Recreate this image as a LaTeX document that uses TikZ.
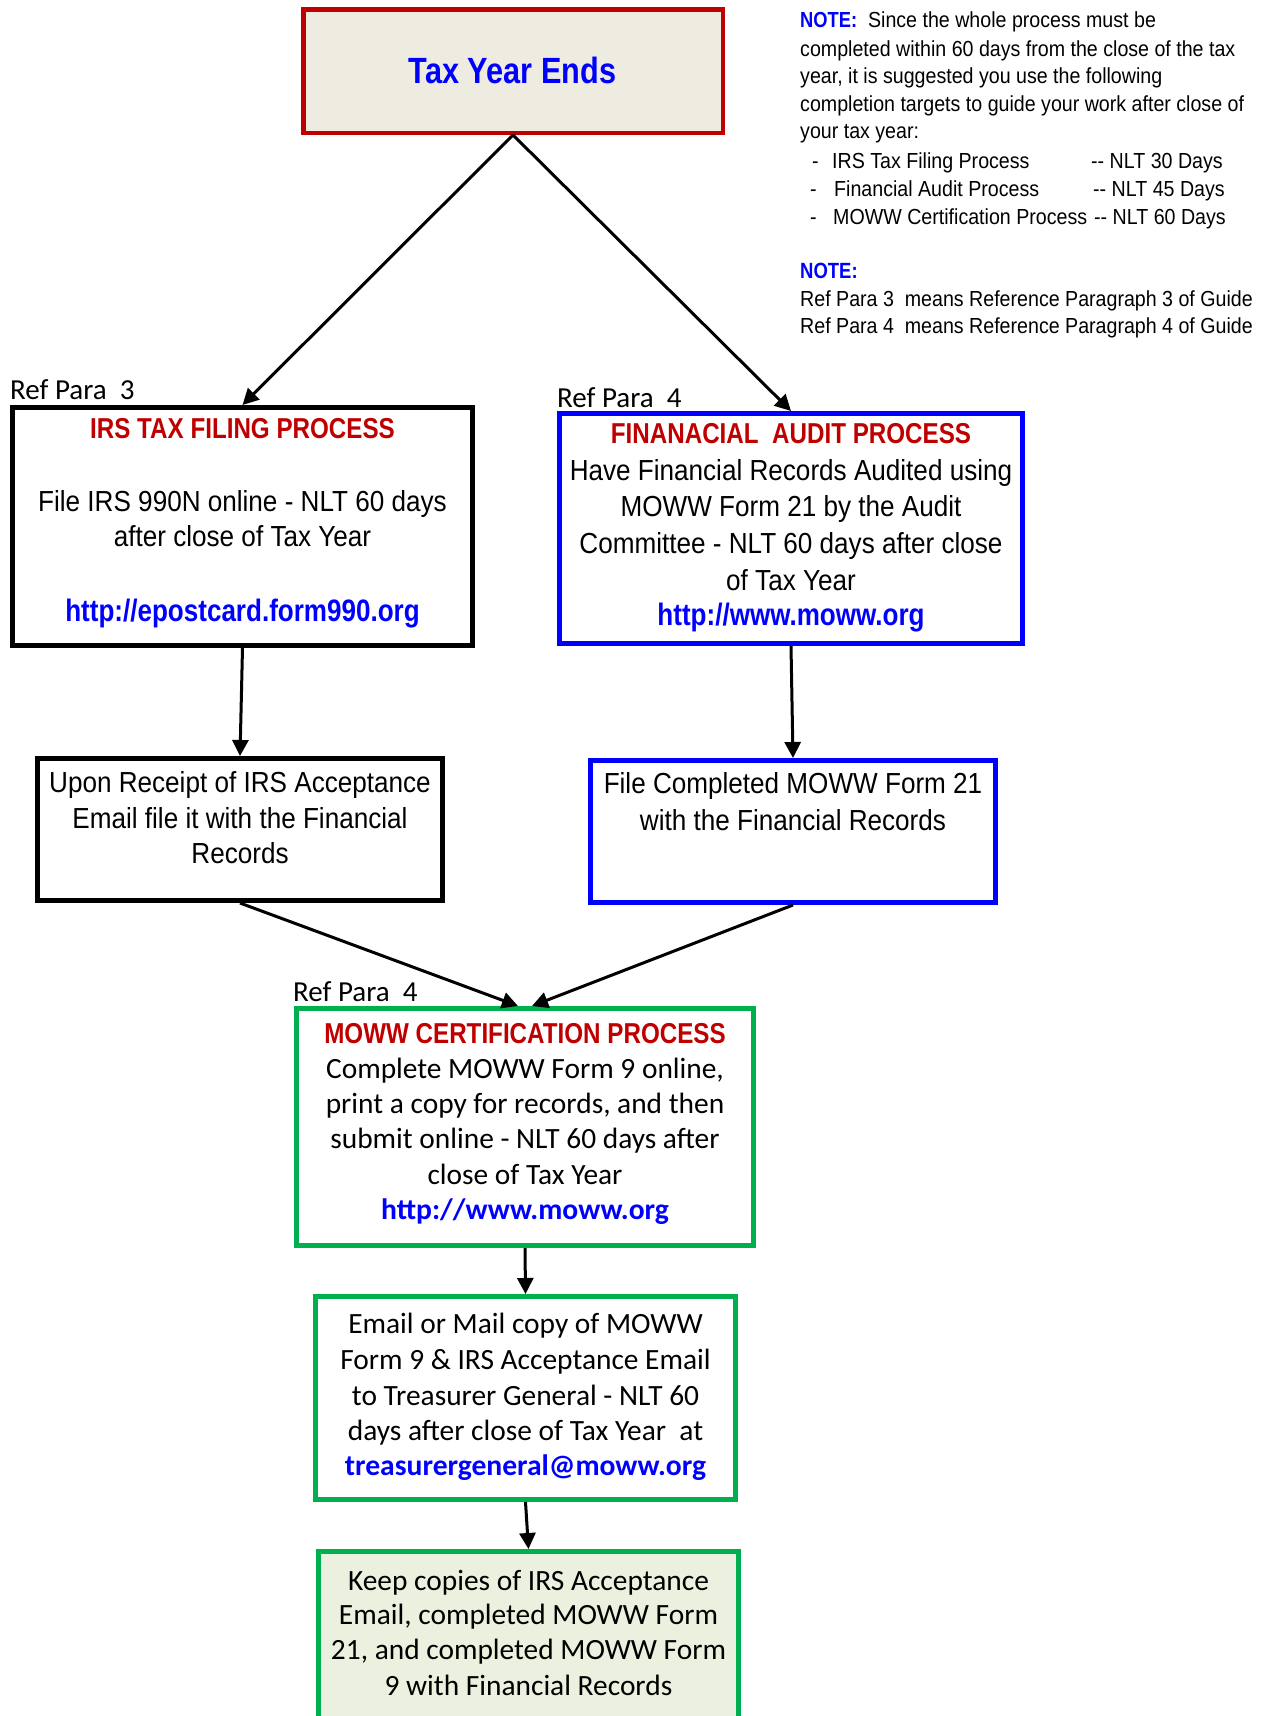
\documentclass[tikz,border=0pt]{standalone}
\usepackage{fontspec}
\usetikzlibrary{arrows.meta}
\newfontfamily\narfont[FakeStretch=0.9]{Liberation Sans}
\newfontfamily\narbfont[FakeStretch=0.84]{Liberation Sans}
\newfontfamily\califont{Carlito}
\newcommand\nbold{\narbfont\bfseries}
\definecolor{myred}{HTML}{C00000}
\definecolor{myblue}{HTML}{0000FF}
\definecolor{mygreen}{HTML}{00B050}
\definecolor{tanfill}{HTML}{EEECE1}
\definecolor{olivefill}{HTML}{EBF1DE}
\tikzset{
  box/.style={draw, line width=5pt, inner sep=0pt},
  arr/.style={line width=3pt, -{Triangle[length=16pt,width=16pt]}},
  tl/.style={anchor=base, inner sep=0pt},
  tlw/.style={anchor=base west, inner sep=0pt},
  nreg/.style={font=\narfont\fontsize{29}{35}\selectfont},
  nnote/.style={font=\narfont\fontsize{21.8}{27}\selectfont},
  ntitle/.style={font=\nbold\fontsize{28.8}{34}\selectfont, text=myred},
  nurl/.style={font=\nbold\fontsize{31}{36}\selectfont, text=myblue},
  creg/.style={font=\califont\fontsize{29.4}{35}\selectfont},
  curl/.style={font=\califont\bfseries\fontsize{29.6}{35}\selectfont, text=myblue},
  cref/.style={font=\califont\fontsize{29}{34}\selectfont},
}
\begin{document}
\begin{tikzpicture}[x=1pt,y=-1pt]
\useasboundingbox[fill=white] (0,0) rectangle (1270,1716);

% boxes
\node[box, draw=myred, line width=4.5pt, fill=tanfill, minimum width=419.5pt, minimum height=123.5pt] (top) at (513,71) {};
\node[box, draw=black, minimum width=460pt, minimum height=238pt] (irs) at (242.5,526.5) {};
\node[box, draw=myblue, minimum width=463pt, minimum height=230pt] (fin) at (791,528.5) {};
\node[box, draw=black, minimum width=405pt, minimum height=142pt] (upon) at (240,829.5) {};
\node[box, draw=myblue, minimum width=405pt, minimum height=142pt] (filec) at (793,831.5) {};
\node[box, draw=mygreen, minimum width=457pt, minimum height=237pt] (cert) at (525,1127) {};
\node[box, draw=mygreen, minimum width=420pt, minimum height=203pt] (email) at (525.5,1398) {};
\node[box, draw=mygreen, fill=olivefill, minimum width=420pt, minimum height=178.5pt] (keep) at (528.5,1640.75) {};

% top box text
\node[tl, font=\nbold\fontsize{36.5}{42}\selectfont, text=myblue] (toptxt) at (512.5,83) {Tax Year Ends};

% note block
\node[tlw, nnote] (n1) at (800,27.3) {{\nbold\color{myblue}NOTE:}\ \ Since the whole process must be};
\node[tlw, nnote] (n2) at (800,56) {completed within 60 days from the close of the tax};
\node[tlw, nnote] (n3) at (800,83.3) {year, it is suggested you use the following};
\node[tlw, nnote] (n4) at (800,111) {completion targets to guide your work after close of};
\node[tlw, nnote] (n5) at (800,138.3) {your tax year:};
\node[tlw, nnote] (d1) at (812,168.3) {-};
\node[tlw, nnote] (l1) at (832,168.3) {IRS Tax Filing Process};
\node[tlw, nnote] (t1) at (1091,168.3) {-- NLT 30 Days};
\node[tlw, nnote] (d2) at (810,196.7) {-};
\node[tlw, nnote] (l2) at (834,196.7) {Financial Audit Process};
\node[tlw, nnote] (t2) at (1093,196.7) {-- NLT 45 Days};
\node[tlw, nnote] (d3) at (810,224) {-};
\node[tlw, nnote] (l3) at (833,224) {MOWW Certification Process};
\node[tlw, nnote] (t3) at (1094,224) {-- NLT 60 Days};
\node[tlw, font=\nbold\fontsize{22}{27}\selectfont, text=myblue] (n6) at (800,278.3) {NOTE:};
\node[tlw, nnote] (n7) at (800,306.7) {Ref Para 3\ \ means Reference Paragraph 3 of Guide};
\node[tlw, nnote] (n8) at (800,333.3) {Ref Para 4\ \ means Reference Paragraph 4 of Guide};

% IRS box text
\node[tlw, cref] (ref3) at (10,399) {Ref Para\ \ 3};
\node[tl, ntitle] (irs0) at (242.5,438) {IRS TAX FILING PROCESS};
\node[tl, nreg] (irs1) at (242.5,511.7) {File IRS 990N online - NLT 60 days};
\node[tl, nreg] (irs2) at (242.5,546.7) {after close of Tax Year};
\node[tl, nurl] (irs3) at (242.5,621.7) {http://epostcard.form990.org};

% Financial box text
\node[tlw, cref] (ref4a) at (557,407) {Ref Para\ \ 4};
\node[tl, ntitle] (fin0) at (791,443) {FINANACIAL\ \ AUDIT PROCESS};
\node[tl, nreg] (fin1) at (791,480) {Have Financial Records Audited using};
\node[tl, nreg] (fin2) at (791,516.7) {MOWW Form 21 by the Audit};
\node[tl, nreg] (fin3) at (791,553.3) {Committee - NLT 60 days after close};
\node[tl, nreg] (fin4) at (791,590) {of Tax Year};
\node[tl, nurl] (fin5) at (791,625) {http://www.moww.org};

% Upon box text
\node[tl, nreg] (up1) at (240,792) {Upon Receipt of IRS Acceptance};
\node[tl, nreg] (up2) at (240,828) {Email file it with the Financial};
\node[tl, nreg] (up3) at (240,863) {Records};

% File completed text
\node[tl, nreg] (fc1) at (793,793) {File Completed MOWW Form 21};
\node[tl, nreg] (fc2) at (793,830.7) {with the Financial Records};

% Cert box text
\node[tlw, cref] (ref4b) at (293,1001) {Ref Para\ \ 4};
\node[tl, ntitle] (ce0) at (525,1043) {MOWW CERTIFICATION PROCESS};
\node[tl, creg] (ce1) at (525,1078.3) {Complete MOWW Form 9 online,};
\node[tl, creg] (ce2) at (525,1113.3) {print a copy for records, and then};
\node[tl, creg] (ce3) at (525,1148.3) {submit online - NLT 60 days after};
\node[tl, creg] (ce4) at (525,1184) {close of Tax Year};
\node[tl, curl] (ce5) at (525,1219.5) {http://www.moww.org};

% Email box text
\node[tl, creg] (em1) at (525.5,1333.3) {Email or Mail copy of MOWW};
\node[tl, creg] (em2) at (525.5,1369.3) {Form 9 \& IRS Acceptance Email};
\node[tl, creg] (em3) at (525.5,1405) {to Treasurer General - NLT 60};
\node[tl, creg] (em4) at (525.5,1440) {days after close of Tax Year\ \ at};
\node[tl, curl] (em5) at (525.5,1475) {treasurergeneral@moww.org};

% Keep box text
\node[tl, creg] (kp1) at (528.5,1590) {Keep copies of IRS Acceptance};
\node[tl, creg] (kp2) at (528.5,1624.3) {Email, completed MOWW Form};
\node[tl, creg] (kp3) at (528.5,1659.3) {21, and completed MOWW Form};
\node[tl, creg] (kp4) at (528.5,1695) {9 with Financial Records};

% connectors
\draw[arr] (top.south) -- (irs.north);
\draw[arr] (top.south) -- (fin.north);
\draw[arr] (irs.south) -- (upon.north);
\draw[arr] (fin.south) -- (filec.north);
\draw[arr] (upon.south) -- ([xshift=-7pt]cert.north);
\draw[arr] (filec.south) -- ([xshift=7pt]cert.north);
\draw[arr] (cert.south) -- (email.north);
\draw[arr] (email.south) -- (keep.north);
\end{tikzpicture}
\end{document}
